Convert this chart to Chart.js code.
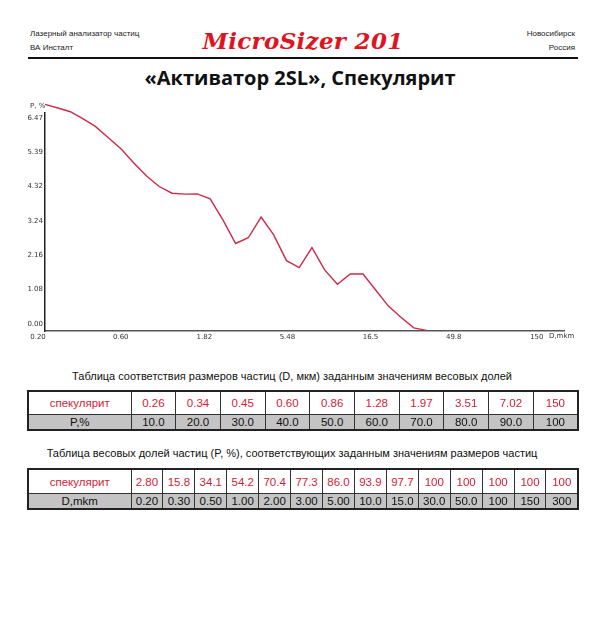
<!DOCTYPE html>
<html>
<head>
<meta charset="utf-8">
<script src="https://cdn.jsdelivr.net/npm/chart.js@4.4.1/dist/chart.umd.min.js"></script>
<style>
  body { margin: 0; background: #fff; width: 600px; height: 636px; position: relative; overflow: hidden; font-family: "Liberation Sans", Arial, sans-serif; }
  .abs { position: absolute; white-space: nowrap; }
  .small { font-size: 8px; color: #222; }
  #brand { left: 0; width: 606px; top: 27px; text-align: center; font-family: "DejaVu Serif", serif; font-style: italic; font-weight: bold; font-size: 23px; color: #e01420; letter-spacing: 0.3px; }
  #rule { left: 28px; top: 57px; width: 550px; height: 2px; background: #111; }
  #title { left: 0; width: 600px; top: 64px; text-align: center; font-family: "Open Sans", sans-serif; font-weight: bold; font-size: 20px; color: #111; }
  #chart { position: absolute; left: 0; top: 95px; }
  .axlbl { font-family: "DejaVu Sans", sans-serif; font-size: 7px; color: #333; }
  .cap { left: 0; width: 584px; text-align: center; font-size: 11px; color: #111; }
  table { position: absolute; left: 27px; border-collapse: collapse; table-layout: fixed; border: 2px solid #222; font-size: 11.5px; }
  td { border: 1px solid #333; text-align: center; padding: 0; overflow: hidden; }
  tr.r1 td { color: #d41c32; background: #fff; }
  tr.r2 td { color: #111; background: #c4c4c4; }
  #t1 { top: 390px; width: 552px; }
  #t1 tr.r1 td { height: 22px; }
  #t1 tr.r2 td { height: 14px; }
  #t2 { top: 468px; width: 552px; }
  #t2 tr.r1 td { height: 23px; }
  #t2 tr.r2 td { height: 14px; }
</style>
</head>
<body>
<div class="abs small" style="left:30px; top:29px;">Лазерный анализатор частиц</div>
<div class="abs small" style="left:30px; top:43px;">ВА Инсталт</div>
<div class="abs small" style="right:25px; top:29px;">Новосибирск</div>
<div class="abs small" style="right:25px; top:43px;">Россия</div>
<div class="abs" id="brand">MicroSizer 201</div>
<div class="abs" id="rule"></div>
<div class="abs" id="title">«Активатор 2SL», Спекулярит</div>

<canvas id="chart" width="600" height="250"></canvas>
<div class="abs axlbl" style="left:30px; top:102px;">P, %</div>
<div class="abs axlbl" style="left:549px; top:332px;">D,mkm</div>

<div class="abs cap" style="top:370px;">Таблица соответствия размеров частиц (D, мкм) заданным значениям весовых долей</div>
<table id="t1"></table>
<div class="abs cap" style="top:447px;">Таблица весовых долей частиц (P, %), соответствующих заданным значениям размеров частиц</div>
<table id="t2"></table>

<script>
// particle size, mkm (x) and differential share, % (y)
var sizes = [0.20, 0.24, 0.28, 0.33, 0.39, 0.46, 0.55, 0.65, 0.77, 0.91,
             1.08, 1.28, 1.51, 1.79, 2.12, 2.51, 2.97, 3.52, 4.16, 4.93,
             5.84, 6.91, 8.18, 9.69, 11.5, 13.6, 16.1, 19.0, 22.5, 26.7, 31.6];
var shares = [7.12, 7.00, 6.89, 6.67, 6.43, 6.09, 5.72, 5.28, 4.87, 4.54,
              4.33, 4.30, 4.31, 4.15, 3.49, 2.75, 2.93, 3.58, 3.02, 2.21,
              1.99, 2.62, 1.92, 1.47, 1.79, 1.79, 1.29, 0.79, 0.43, 0.10, 0.02];

var xTicks = [0.20, 0.60, 1.82, 5.48, 16.5, 49.8, 150];
var xTickLabels = ['0.20', '0.60', '1.82', '5.48', '16.5', '49.8', '150'];
var yTicks = [0, 1.08, 2.16, 3.24, 4.32, 5.39, 6.47];
var yTickLabels = ['0.00', '1.08', '2.16', '3.24', '4.32', '5.39', '6.47'];

var sampleName = 'спекулярит';
// table 1: size D at given cumulative share P
var t1Sizes = ['0.26', '0.34', '0.45', '0.60', '0.86', '1.28', '1.97', '3.51', '7.02', '150'];
var t1Shares = ['10.0', '20.0', '30.0', '40.0', '50.0', '60.0', '70.0', '80.0', '90.0', '100'];
// table 2: cumulative share P at given size D
var t2Shares = ['2.80', '15.8', '34.1', '54.2', '70.4', '77.3', '86.0', '93.9', '97.7', '100', '100', '100', '100', '100'];
var t2Sizes = ['0.20', '0.30', '0.50', '1.00', '2.00', '3.00', '5.00', '10.0', '15.0', '30.0', '50.0', '100', '150', '300'];

function fillTable(id, top, bottom, bottomName) {
    var html = '<colgroup><col style="width:103px">';
    for (var c = 0; c < top.length; c++)
        html += '<col>';
    html += '</colgroup><tr class="r1"><td>' + sampleName + '</td>';
    for (var i = 0; i < top.length; i++)
        html += '<td>' + top[i] + '</td>';
    html += '</tr><tr class="r2"><td>' + bottomName + '</td>';
    for (var j = 0; j < bottom.length; j++)
        html += '<td>' + bottom[j] + '</td>';
    html += '</tr>';
    document.getElementById(id).innerHTML = html;
}

fillTable('t1', t1Sizes, t1Shares, 'P,%');
fillTable('t2', t2Shares, t2Sizes, 'D,mkm');

var points = [];
for (var i = 0; i < sizes.length; i++)
    points.push({x: sizes[i], y: shares[i]});

var tickFont = {family: 'DejaVu Sans', size: 7};

new Chart(document.getElementById('chart'), {
    type: 'line',
    data: {
        datasets: [{
            data: points,
            borderColor: '#cc2a48',
            borderWidth: 1.4,
            pointRadius: 0,
            tension: 0,
            fill: false,
            clip: false
        }]
    },
    options: {
        responsive: false,
        animation: false,
        events: [],
        layout: {padding: {left: 0, top: 18, right: 36, bottom: 0}},
        plugins: {legend: {display: false}, tooltip: {enabled: false}},
        scales: {
            x: {
                type: 'logarithmic',
                min: 0.2,
                max: 196,
                afterBuildTicks: function (scale) {
                    scale.ticks = xTicks.map(function (v) { return {value: v}; });
                },
                afterFit: function (scale) { scale.height = 14; },
                grid: {display: false, drawTicks: false},
                border: {display: true, color: '#555', width: 1.5},
                ticks: {
                    autoSkip: false,
                    maxRotation: 0,
                    padding: 2,
                    labelOffset: -7,
                    color: '#333',
                    font: tickFont,
                    callback: function (v, idx) { return xTickLabels[idx]; }
                }
            },
            y: {
                min: 0,
                max: 6.85,
                afterBuildTicks: function (scale) {
                    scale.ticks = yTicks.map(function (v) { return {value: v}; });
                },
                afterFit: function (scale) { scale.width = 45; },
                grid: {display: false, drawTicks: false},
                border: {display: true, color: '#222', width: 1.5},
                ticks: {
                    autoSkip: false,
                    padding: 2,
                    labelOffset: -7,
                    color: '#333',
                    font: tickFont,
                    callback: function (v, idx) { return yTickLabels[idx]; }
                }
            }
        }
    }
});
</script>
</body>
</html>
